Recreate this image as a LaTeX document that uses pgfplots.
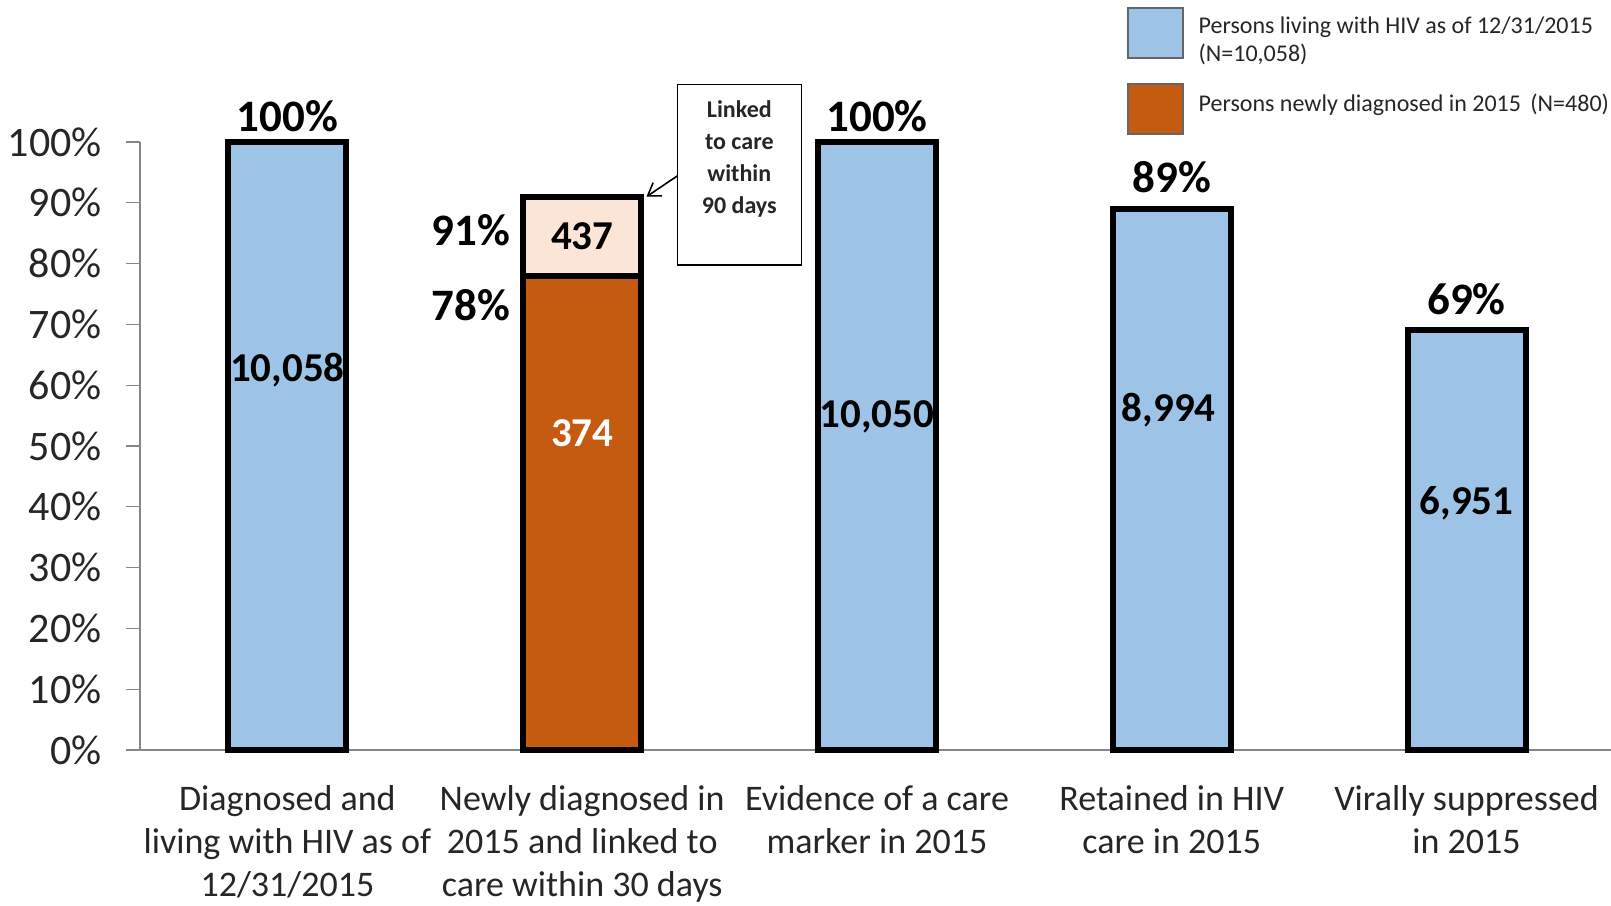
\documentclass[border=0pt]{standalone}
\usepackage{fontspec}
\setmainfont{Carlito}
\usepackage{pgfplots}
\pgfplotsset{compat=1.18}
\usetikzlibrary{arrows.meta}
\definecolor{hivblue}{HTML}{9DC3E6}
\definecolor{neworange}{HTML}{C55A11}
\definecolor{peach}{HTML}{FBE5D6}
\definecolor{axisgray}{HTML}{868686}
\definecolor{txt}{HTML}{262626}

\begin{document}
\begin{tikzpicture}
% page = 1611x905 px at 0.5pt per px
\useasboundingbox (-70pt,-77.5pt) rectangle (735.5pt,375pt);
\begin{axis}[
  at={(0pt,0pt)}, anchor=south west,
  scale only axis, width=735.5pt, height=304pt,
  xmin=-0.5, xmax=4.49, ymin=0, ymax=100,
  clip=false,
  axis x line*=bottom, axis y line*=left,
  axis line style={axisgray, line width=0.6pt},
  ybar, bar width=59pt, bar shift=0pt,
  /pgf/number format/assume math mode=true,
  tick align=outside, major tick length=7pt,
  ytick={0,10,...,100},
  yticklabel={\pgfmathprintnumber{\tick}\%},
  ytick style={axisgray, line width=0.6pt},
  yticklabel style={font=\fontsize{21}{24}\selectfont, text=txt, anchor=east, inner sep=0pt, xshift=-12pt},
  xtick={0,...,4}, xtick style={draw=none},
  xticklabels={
    {Diagnosed and\\living with HIV as of\\12/31/2015},
    {Newly diagnosed in\\2015 and linked to\\care within 30 days},
    {Evidence of a care\\marker in 2015},
    {Retained in HIV\\care in 2015},
    {Virally suppressed\\in 2015}},
  xticklabel style={font=\fontsize{18}{21.5}\selectfont, text=txt, align=center, anchor=north, inner sep=0pt, yshift=-10.5pt},
  legend cell align=left,
  legend style={at={(0.671,1.222)}, anchor=north west, draw=none, fill=none,
    inner sep=0pt, column sep=7.5pt, row sep=9.5pt,
    font=\fontsize{12}{14}\selectfont, text=txt,
    nodes={inner sep=0pt}, cells={align=left}},
  pct/.style={nodes near coords={\pgfmathprintnumber{\pgfplotspointmeta}\%},
    every node near coord/.append style={font=\bfseries\fontsize{22.5}{26}\selectfont, text=black, anchor=base, yshift=#1}},
]
% living with HIV
\addplot[fill=hivblue, draw=black, line width=3pt, pct=5pt,
  legend image code/.code={\draw[fill=hivblue, draw=black!60, line width=0.6pt] (0pt,-8.75pt) rectangle (27.5pt,16.25pt);}]
  coordinates {(0,100) (2,100)};
\addplot[fill=hivblue, draw=black, line width=3pt, pct=8pt, forget plot]
  coordinates {(3,89) (4,69)};
% linked within 90 days
\addplot[fill=peach, draw=black, line width=3pt, forget plot]
  coordinates {(1,91)};
% linked within 30 days
\addplot[fill=neworange, draw=black, line width=3pt,
  legend image code/.code={\draw[fill=neworange, draw=black!60, line width=0.6pt] (0pt,-15pt) rectangle (27.5pt,10pt);}]
  coordinates {(1,78)};
\legend{{Persons living with HIV as of 12/31/2015\\(N=10,058)}, {Persons newly diagnosed in 2015\, (N=480)}}

\draw[axisgray, line width=0.6pt] (axis cs:-0.5,0) -- ++(-7pt,0pt);

\begin{scope}[every node/.style={font=\bfseries\fontsize{20.5}{24}\selectfont, text=black}]
  \node at (axis cs:0,62.5) {10,058};
  \node[text=white] at (axis cs:1,52.1) {374};
  \node at (axis cs:1,84.5) {437};
  \node at (axis cs:2,54.8) {10,050};
  \node at (axis cs:2.99,55.9) {8,994};
  \node at (axis cs:4,40.6) {6,951};
\end{scope}
\node[font=\bfseries\fontsize{22.5}{26}\selectfont, anchor=east, inner sep=0pt] at (axis cs:0.756,85.5) {91\%};
\node[font=\bfseries\fontsize{22.5}{26}\selectfont, anchor=east, inner sep=0pt] at (axis cs:0.756,73.2) {78\%};

% callout
\draw[black, line width=0.7pt, fill=white] (axis cs:1.323,109.5) rectangle (axis cs:1.744,79.8);
\node[font=\bfseries\fontsize{12}{16}\selectfont, align=center, anchor=north, inner sep=0pt, text=txt]
  at (axis cs:1.533,106.9) {Linked\\to care\\within\\90 days};
\draw[black, line width=0.8pt, -{Straight Barb[length=6pt,width=8pt]}] (axis cs:1.322,94.4) -- (axis cs:1.218,91);
\end{axis}
\end{tikzpicture}
\end{document}
